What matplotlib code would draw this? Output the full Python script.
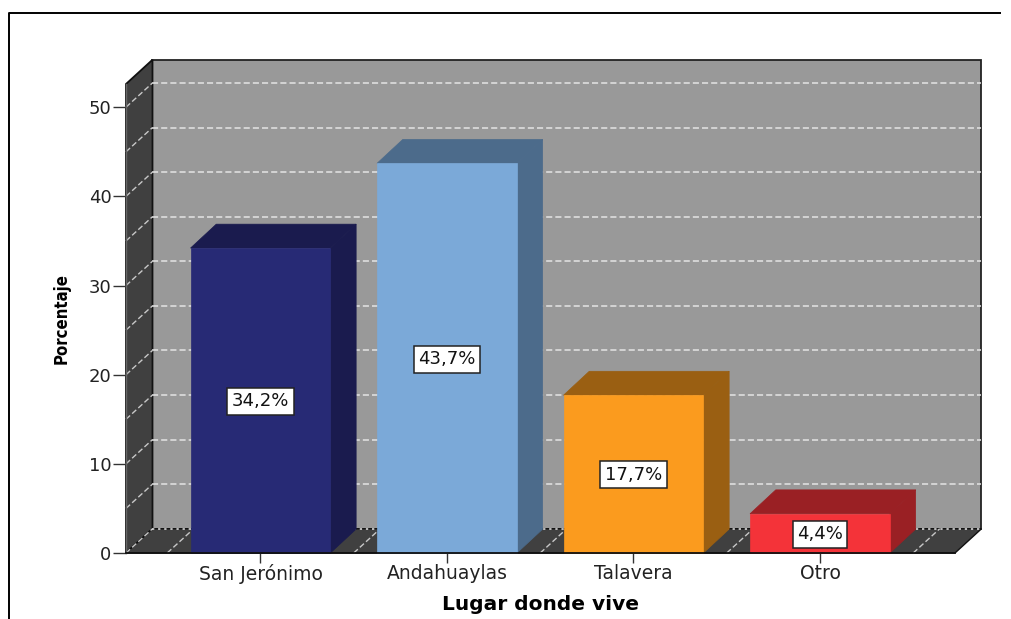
import matplotlib
matplotlib.use("Agg")
import matplotlib.pyplot as plt
from matplotlib.patches import Polygon, Rectangle

categories = ["San Jerónimo", "Andahuaylas", "Talavera", "Otro"]
values = [34.2, 43.7, 17.7, 4.4]
labels = ["34,2%", "43,7%", "17,7%", "4,4%"]
yticks = [0, 10, 20, 30, 40, 50]
gridvals = [5, 10, 15, 20, 25, 30, 35, 40, 45, 50]
front_cols = ["#272A75", "#7BA9D8", "#FB9B1E", "#F43339"]
dark_cols = ["#1A1B4E", "#4C6B8B", "#9A5F12", "#9A2024"]

W, H = 1011, 619
FONT = "DejaVu Sans"
fig = plt.figure(figsize=(W / 100, H / 100), dpi=100, facecolor="white")

# outer frame
bg = fig.add_axes([0, 0, 1, 1])
bg.set_xlim(0, W); bg.set_ylim(H, 0); bg.axis("off")
bg.plot([9, 9, 1001], [H, 13, 13], color="black", lw=1.4, solid_capstyle="butt")

L, R, B, T = 126, 955, 553, 84
ax = fig.add_axes([L / W, 1 - B / H, (R - L) / W, (B - T) / H])
ax.patch.set_alpha(0)
ax.set_xlim(-0.721, 3.724)
ax.set_ylim(0, 52.6)
dx, dy = 0.142, 2.72          # oblique depth of the box, data units
bdx, bdy = 0.138, 2.68        # oblique depth of the bars
x0, x1 = ax.get_xlim()
ytop = ax.get_ylim()[1]
kw = dict(clip_on=False)

# walls
ax.add_patch(Polygon([(x0 + dx, dy), (x1 + dx, dy), (x1 + dx, ytop + dy), (x0 + dx, ytop + dy)],
                     fc="#999999", ec="#222222", lw=1.3, zorder=1, **kw))
ax.add_patch(Polygon([(x0, 0), (x0 + dx, dy), (x0 + dx, ytop + dy), (x0, ytop)],
                     fc="#404040", ec="#111111", lw=1.3, zorder=1, **kw))
ax.add_patch(Polygon([(x0, 0), (x1, 0), (x1 + dx, dy), (x0 + dx, dy)],
                     fc="#404040", ec="#111111", lw=1.0, zorder=1, **kw))

# gridlines
gs = dict(color="#E4E4E4", lw=1.1, ls=(0, (4, 2)), zorder=2, clip_on=False)
ds = dict(color="#C8C8C8", lw=1.0, ls=(0, (4, 2)), zorder=2, clip_on=False)
for g in gridvals:
    ax.plot([x0 + dx, x1 + dx], [g + dy, g + dy], **gs)
    ax.plot([x0, x0 + dx], [g, g + dy], **ds)
ax.plot([x0, x0 + dx], [0, dy], **ds)
ax.plot([x0 + dx, x1 + dx], [dy, dy], color="#E8E8E8", lw=1.1, ls=(0, (1.5, 2.5)), zorder=2, clip_on=False)
for i in range(len(categories) + 1):
    xb = i - 0.5
    ax.plot([xb, xb + dx], [0, dy], **ds)

# bars
bw = 0.75
for i, (v, fc, dc) in enumerate(zip(values, front_cols, dark_cols)):
    a, b = i - bw / 2, i + bw / 2
    ax.add_patch(Polygon([(b, 0), (b + bdx, bdy), (b + bdx, v + bdy), (b, v)], fc=dc, ec=dc, lw=0.5, zorder=3, **kw))
    ax.add_patch(Polygon([(a, v), (b, v), (b + bdx, v + bdy), (a + bdx, v + bdy)], fc=dc, ec=dc, lw=0.5, zorder=3, **kw))
    ax.add_patch(Rectangle((a, 0), bw, v, fc=fc, ec=fc, lw=0.5, zorder=4, **kw))
    ax.text(i, v / 2 - 0.1, labels[i], ha="center", va="center", fontsize=13, family=FONT, color="#111111", zorder=6,
            bbox=dict(boxstyle="square,pad=0.25", fc="white", ec="#222222", lw=1.1))

# axes
for s in ["top", "right"]:
    ax.spines[s].set_visible(False)
ax.spines["left"].set_color("#666666")
ax.spines["bottom"].set_color("#111111")
ax.spines["left"].set_linewidth(1.0)
ax.spines["bottom"].set_linewidth(1.3)
ax.spines["left"].set_zorder(7); ax.spines["bottom"].set_zorder(7)
ax.set_yticks(yticks)
ax.set_xticks(range(len(categories)))
ax.set_xticklabels(categories, fontfamily=FONT, fontsize=13.5, color="#222222")
ax.set_yticklabels([str(t) for t in yticks], fontfamily=FONT, fontsize=13, color="#222222")
ax.tick_params(axis="y", length=9.4, width=1.0, color="#333333", pad=1)
ax.tick_params(axis="x", length=7.2, width=1.0, color="#333333", pad=1)

bg.text(62, 319, "Porcentaje", rotation=90, ha="center", va="center", fontsize=12, fontweight="bold",
        fontstretch="condensed", family=FONT, color="black")
bg.text(540, 605, "Lugar donde vive", ha="center", va="center", fontsize=14.5, fontweight="bold",
        family=FONT, color="black")

fig.savefig("out.png", dpi=100)
